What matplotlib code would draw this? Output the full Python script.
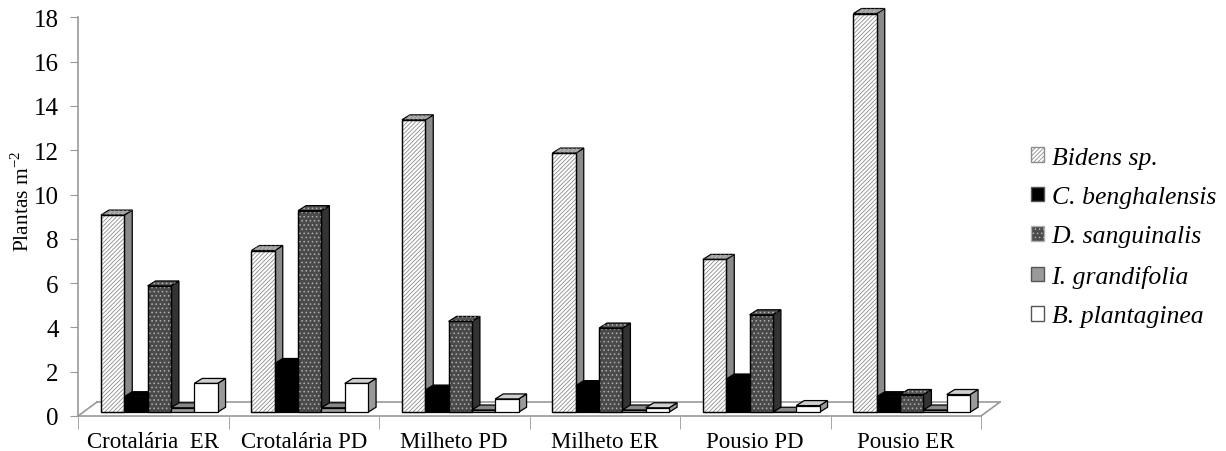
import matplotlib
matplotlib.use("Agg")
import matplotlib.pyplot as plt
from matplotlib.patches import Polygon, Patch
import numpy as np

# data (plants per m2)
categories = ["Crotalária  ER", "Crotalária PD", "Milheto PD", "Milheto ER", "Pousio PD", "Pousio ER"]
species = ["Bidens sp.", "C. benghalensis", "D. sanguinalis", "I. grandifolia", "B. plantaginea"]
bidens = [8.9, 7.3, 13.2, 11.7, 6.9, 18.0]
c_beng = [0.7, 2.2, 1.0, 1.2, 1.5, 0.7]
d_sang = [5.7, 9.1, 4.1, 3.8, 4.4, 0.8]
i_grand = [0.2, 0.2, 0.1, 0.1, 0.0, 0.1]
b_plant = [1.3, 1.3, 0.6, 0.2, 0.3, 0.8]
series = [bidens, c_beng, d_sang, i_grand, b_plant]
yticks = list(range(0, 19, 2))

# styles: front face, side face, top face, hatch, hatch colour
styles = [
    dict(front="white", side="#8a8a8a", top="#b0b0b0", hatch="////////", hcol="#8c8c8c"),
    dict(front="black", side="black", top="black", hatch=None, hcol=None),
    dict(front="#4a4a4a", side="#333333", top="#555555", hatch="....", hcol="#b0b0b0"),
    dict(front="#9a9a9a", side="#6e6e6e", top="#888888", hatch=None, hcol=None),
    dict(front="white", side="#9a9a9a", top="#cfcfcf", hatch=None, hcol=None),
]

plt.rcParams["font.family"] = ["Liberation Serif", "DejaVu Serif"]
plt.rcParams["mathtext.fontset"] = "custom"
plt.rcParams["mathtext.rm"] = "Liberation Serif"
plt.rcParams["hatch.linewidth"] = 0.6

fig = plt.figure(figsize=(12.26, 4.52), dpi=100)
ax = fig.add_axes([78 / 1226, 35 / 452, 903 / 1226, (417 - 18.3) / 452])

x = np.arange(len(categories))
w = 0.155          # bar width (category units)
off = 0.04         # group shift caused by the depth
base = 0.17        # bars stand a little behind the front edge of the floor
dx, dy = 0.053, 0.226      # depth of a bar
fdx, fdy = 0.126, 0.63     # depth of the floor

edge = "#999999"
# floor
ax.plot([-0.5 + fdx, 5.5 + fdx], [fdy, fdy], color=edge, lw=1.2, zorder=1, clip_on=False)
ax.plot([-0.5, -0.5 + fdx], [0, fdy], color=edge, lw=1.2, zorder=1, clip_on=False)
ax.plot([5.5, 5.5 + fdx], [0, fdy], color=edge, lw=1.2, zorder=1, clip_on=False)

for j, vals in enumerate(series):
    st = styles[j]
    xs = x + off + (j - 2) * w
    z = 10 + 4 * j
    # side and top faces
    for xc, v in zip(xs, vals):
        r = xc + w / 2
        l = xc - w / 2
        top = base + v
        side = Polygon([(r, base), (r + dx, base + dy), (r + dx, top + dy), (r, top)],
                       closed=True, facecolor=st["side"], edgecolor="black", lw=0.9,
                       zorder=z, clip_on=False)
        ax.add_patch(side)
        lid = Polygon([(l, top), (r, top), (r + dx, top + dy), (l + dx, top + dy)],
                      closed=True, facecolor=st["top"], edgecolor="black", lw=0.9,
                      zorder=z, clip_on=False)
        ax.add_patch(lid)
        if st["hatch"]:
            ax.add_patch(Polygon([(l, top), (r, top), (r + dx, top + dy), (l + dx, top + dy)],
                                 closed=True, facecolor="none", edgecolor=st["hcol"], lw=0,
                                 hatch=st["hatch"], zorder=z + 0.5, clip_on=False))
    # front face
    ax.bar(xs, vals, w, bottom=base, color=st["front"], edgecolor="black", lw=0.9,
           zorder=z + 1, clip_on=False)
    if st["hatch"]:
        ax.bar(xs, vals, w, bottom=base, color="none", edgecolor=st["hcol"], lw=0,
               hatch=st["hatch"], zorder=z + 2, clip_on=False)
        ax.bar(xs, vals, w, bottom=base, color="none", edgecolor="black", lw=0.9,
               zorder=z + 3, clip_on=False)

ax.set_xlim(-0.5, 5.5)
ax.set_ylim(0, 18)
ax.set_yticks(yticks)
ax.tick_params(axis="y", direction="out", length=6, color=edge, labelsize=18, pad=8)
ax.set_xticks(x)
ax.set_xticklabels(categories)
ax.tick_params(axis="x", length=0, labelsize=16.5, pad=11)
ax.set_xticks(np.arange(-0.5, 6, 1), minor=True)
ax.tick_params(axis="x", which="minor", direction="out", length=9, color=edge)

for s in ["top", "right"]:
    ax.spines[s].set_visible(False)
for s in ["left", "bottom"]:
    ax.spines[s].set_color(edge)
    ax.spines[s].set_linewidth(1.2)
ax.patch.set_alpha(0)

ax.set_ylabel("Plantas m$^{\\mathregular{-2}}$", fontsize=15.5)
ax.yaxis.set_label_coords(-0.0495, 0.542)

handles = []
for j, st in enumerate(styles):
    if st["hatch"]:
        handles.append(Patch(facecolor=st["front"], edgecolor=st["hcol"], hatch=st["hatch"]))
    else:
        handles.append(Patch(facecolor=st["front"], edgecolor="#555555"))
fig.legend(handles, species, loc="center left", bbox_to_anchor=(1031 / 1226, 1 - 238 / 452),
           frameon=False, prop=dict(family="Liberation Serif", style="italic", size=18.5),
           handlelength=0.5, handleheight=0.5, handletextpad=0.3, labelspacing=0.68,
           borderaxespad=0, borderpad=0)

fig.savefig("out.png", dpi=100)
